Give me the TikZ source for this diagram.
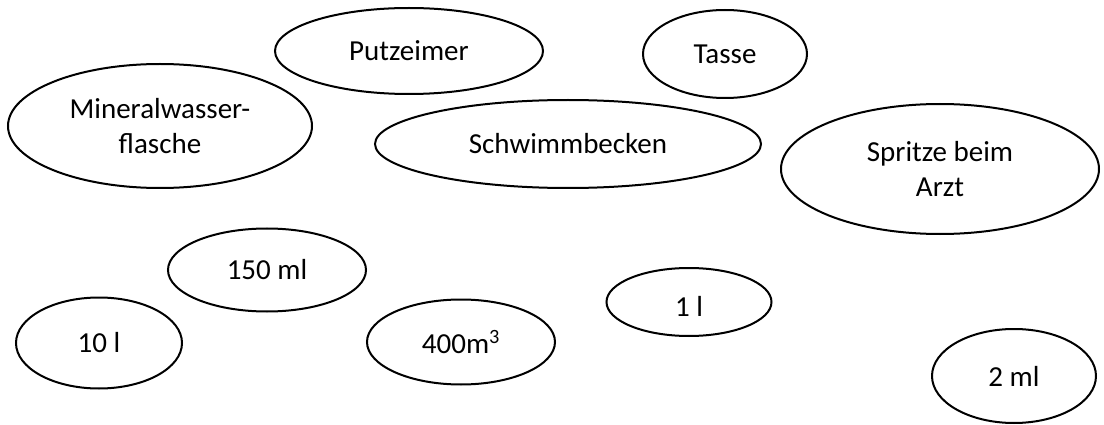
\documentclass[tikz,border=0pt]{standalone}
\usepackage{fontspec}
\setmainfont{Carlito}
\usetikzlibrary{shapes.geometric}
\begin{document}
\begin{tikzpicture}[x=1pt,y=-1pt,
  oval/.style={draw=black, line width=2pt, ellipse, inner sep=0pt, align=center,
    font=\fontsize{29}{35}\selectfont}]
\useasboundingbox[fill=white] (0,0) rectangle (1104,425);
\node[oval, minimum width=268pt, minimum height=86pt] (putz) at (409,51) {Putzeimer};
\node[oval, minimum width=164pt, minimum height=88pt] (tasse) at (725,54) {Tasse};
\node[oval, minimum width=304pt, minimum height=124pt] (mineral) at (160,126) {Mineralwasser-\\flasche};
\node[oval, minimum width=386pt, minimum height=88pt] (schwimm) at (568,144) {Schwimmbecken};
\node[oval, minimum width=318pt, minimum height=130pt] (spritze) at (940,169) {Spritze beim\\Arzt};
\node[oval, minimum width=198pt, minimum height=83pt] (ml150) at (267,270) {150 ml};
\node[oval, minimum width=166pt, minimum height=91pt] (l10) at (99,343) {10 l};
\node[oval, minimum width=188pt, minimum height=85pt] (m400) at (461,342) {400m\textsuperscript{3}};
\node[oval, minimum width=165pt, minimum height=68pt, text height=28pt, text depth=0pt] (l1) at (689,302) {1 l};
\node[oval, minimum width=164pt, minimum height=94pt] (ml2) at (1014,376) {2 ml};
\end{tikzpicture}
\end{document}
